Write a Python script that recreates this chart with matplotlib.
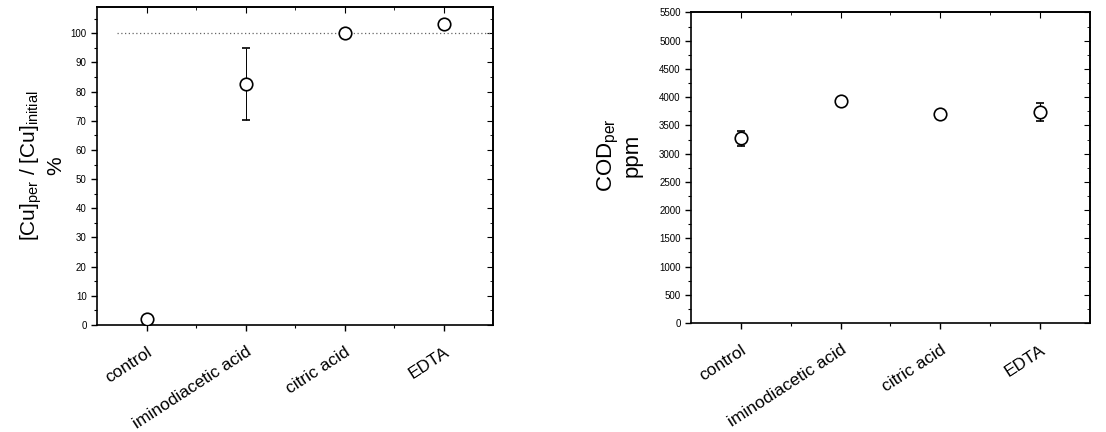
import matplotlib
matplotlib.use("Agg")
import matplotlib.pyplot as plt
from matplotlib.ticker import MultipleLocator, FixedLocator

plt.rcParams['font.family'] = ['Liberation Sans', 'DejaVu Sans']
plt.rcParams['mathtext.fontset'] = 'custom'
plt.rcParams['mathtext.rm'] = 'Liberation Sans'

categories = ["control", "iminodiacetic acid", "citric acid", "EDTA"]
cu_ratio = [2.0, 82.7, 100.0, 103.3]
cu_err = [1.2, 12.3, 0.6, 0.4]
cod = [3270, 3940, 3710, 3740]
cod_err = [130, 50, 50, 160]

fig = plt.figure(figsize=(11.06, 4.32), dpi=100)
ax1 = fig.add_axes([0.0877, 0.2477, 0.3581, 0.7361])
ax2 = fig.add_axes([0.6248, 0.2523, 0.3607, 0.7188])

xpos = list(range(1, len(categories) + 1))

def style(ax, ymajor, yminor, ylim):
    ax.set_xlim(0.5, 4.5)
    ax.set_ylim(*ylim)
    ax.xaxis.set_major_locator(FixedLocator(xpos))
    ax.xaxis.set_minor_locator(FixedLocator([1.5, 2.5, 3.5]))
    ax.yaxis.set_major_locator(MultipleLocator(ymajor))
    ax.yaxis.set_minor_locator(MultipleLocator(yminor))
    ax.set_xticklabels(categories, rotation=33, ha='right', rotation_mode='anchor', fontsize=12.5)
    ax.tick_params(axis='both', which='major', direction='out', length=4, width=1, labelsize=7)
    ax.tick_params(axis='x', which='major', labelsize=12.5, pad=10)
    ax.tick_params(axis='both', which='minor', direction='out', length=2.5, width=0.8)
    for s in ax.spines.values():
        s.set_linewidth(1.2)
    top = ax.secondary_xaxis('top')
    top.xaxis.set_major_locator(FixedLocator(xpos))
    top.xaxis.set_minor_locator(FixedLocator([1.5, 2.5, 3.5]))
    top.tick_params(which='major', direction='in', length=4, labeltop=False)
    top.tick_params(which='minor', direction='in', length=2.5)
    top.spines['top'].set_linewidth(1.2)
    right = ax.secondary_yaxis('right')
    right.yaxis.set_major_locator(MultipleLocator(ymajor))
    right.yaxis.set_minor_locator(MultipleLocator(yminor))
    right.tick_params(which='major', direction='in', length=4, labelright=False)
    right.tick_params(which='minor', direction='in', length=2.5)
    right.spines['right'].set_linewidth(1.2)

style(ax1, 10, 5, (0, 109))
ax1.axhline(100, xmin=0.05, xmax=1.0, color='#666666', linestyle=(0, (1, 2)), linewidth=0.9, zorder=1)
ax1.errorbar(xpos, cu_ratio, yerr=cu_err, fmt='o', mfc='white', mec='black', mew=1.2,
             ms=9, ecolor='black', elinewidth=0.7, capsize=3, capthick=0.8, zorder=3)
ax1.set_ylabel(r"[Cu]$_{\mathrm{per}}$ / [Cu]$_{\mathrm{initial}}$" + "\n%", fontsize=15,
               linespacing=1.1, labelpad=4)

style(ax2, 500, 250, (0, 5500))
ax2.errorbar(xpos, cod, yerr=cod_err, fmt='o', mfc='white', mec='black', mew=1.2,
             ms=9, ecolor='black', elinewidth=0.8, capsize=3, capthick=0.8, zorder=3)
ax2.set_ylabel(r"COD$_{\mathrm{per}}$" + "\nppm", fontsize=16, linespacing=1.0, labelpad=12)
ax2.yaxis.label.set_y(0.54)

fig.savefig("out.png", dpi=100)
